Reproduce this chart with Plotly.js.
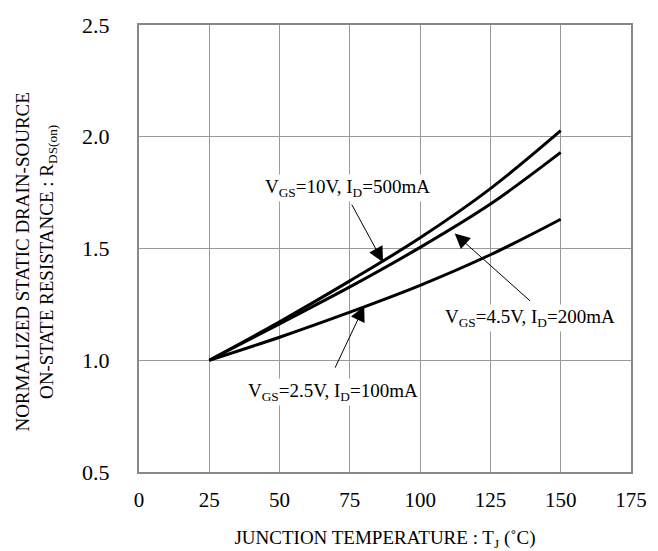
<!DOCTYPE html>
<html>
<head>
<meta charset="utf-8">
<script src="https://cdn.plot.ly/plotly-3.0.1.min.js"></script>
<style>html,body{margin:0;padding:0;background:#fff;}#chart{width:658px;height:551px;}</style>
</head>
<body>
<div id="chart"></div>
<script>
// Junction temperature (°C)
var temps = [25, 50, 75, 100, 125, 150];
// Normalized RDS(on)
var rds10V = [1.0, 1.172, 1.355, 1.548, 1.768, 2.027];
var rds45V = [1.0, 1.163, 1.328, 1.505, 1.699, 1.930];
var rds25V = [1.0, 1.103, 1.215, 1.335, 1.472, 1.631];
var seriesNames = ['V<sub>GS</sub>=10V, I<sub>D</sub>=500mA', 'V<sub>GS</sub>=4.5V, I<sub>D</sub>=200mA', 'V<sub>GS</sub>=2.5V, I<sub>D</sub>=100mA'];
var xTicks = [0, 25, 50, 75, 100, 125, 150, 175];
var yTicks = [0.5, 1.0, 1.5, 2.0, 2.5];
var yTickText = ['0.5', '1.0', '1.5', '2.0', '2.5'];
var yTitle = 'NORMALIZED STATIC DRAIN-SOURCE<br>ON-STATE RESISTANCE : R<sub>DS(on)</sub>';
var xTitle = 'JUNCTION TEMPERATURE : T<sub>J</sub> (˚C)';

var font = '"Liberation Serif", "Times New Roman", serif';
var lineStyle = {color: '#000', width: 3, shape: 'spline', smoothing: 1};
var traces = [rds10V, rds45V, rds25V].map(function (ys, i) {
  return {x: temps, y: ys, mode: 'lines', line: lineStyle, name: seriesNames[i], hoverinfo: 'skip'};
});

function label(text, x, y) {
  return {text: text, x: x, y: y, xref: 'x', yref: 'y', showarrow: false, bgcolor: '#fff',
    font: {family: font, size: 19, color: '#000'}, borderpad: 1};
}
function arrow(x, y, ax, ay) {
  return {text: '', x: x, y: y, ax: ax, ay: ay, xref: 'x', yref: 'y', axref: 'x', ayref: 'y',
    showarrow: true, arrowhead: 2, arrowsize: 3, arrowwidth: 1, arrowcolor: '#000', standoff: 0};
}

var layout = {
  width: 658, height: 551,
  margin: {l: 139, r: 27, t: 25, b: 79},
  paper_bgcolor: '#fff', plot_bgcolor: '#fff',
  showlegend: false,
  font: {family: font, color: '#000'},
  xaxis: {
    range: [0, 175], tickvals: xTicks, ticktext: xTicks.map(String),
    showgrid: true, gridcolor: '#999', gridwidth: 1,
    showline: true, mirror: true, linecolor: '#888', linewidth: 2,
    zeroline: false, ticks: '', ticklabelstandoff: 8,
    tickfont: {family: font, size: 21, color: '#000'},
    title: {text: xTitle, font: {family: font, size: 19, color: '#000'}, standoff: 20}
  },
  yaxis: {
    range: [0.5, 2.5], tickvals: yTicks, ticktext: yTickText,
    showgrid: true, gridcolor: '#999', gridwidth: 1,
    showline: true, mirror: true, linecolor: '#888', linewidth: 2,
    zeroline: false, ticks: '', ticklabelstandoff: 23,
    tickfont: {family: font, size: 22, color: '#000'}
  },
  annotations: [
    arrow(86.8, 1.439, 75.4, 1.703),
    arrow(112.3, 1.567, 139.6, 1.26),
    arrow(80.1, 1.242, 69.5, 0.96),
    label(seriesNames[0], 74.3, 1.770),
    label(seriesNames[1], 138.9, 1.188),
    label(seriesNames[2], 68.9, 0.857),
    {text: yTitle, xref: 'paper', yref: 'paper', x: -0.208, y: 0.47, xanchor: 'center', yanchor: 'middle',
      textangle: -90, showarrow: false, font: {family: font, size: 19, color: '#000'}}
  ]
};

Plotly.newPlot('chart', traces, layout, {staticPlot: true, displayModeBar: false});
</script>
</body>
</html>
